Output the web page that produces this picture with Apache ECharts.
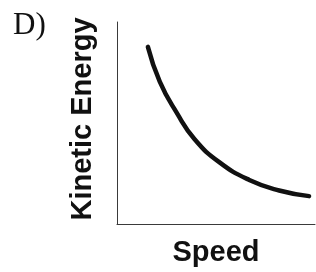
<!DOCTYPE HTML>
<html>
<head>
	<meta charset="utf-8" />
	<title>Kinetic Energy vs Speed</title>
	<script src="https://cdn.jsdelivr.net/npm/echarts@6/dist/echarts.min.js"></script>
	<style>
		html, body { margin: 0; padding: 0; background: #fff; }
		#main { width: 316px; height: 272px; }
	</style>
</head>
<body>
	<div id="main"></div>
	<script type="text/javascript">
		// values (axes have no scale, 0..100 each)
		var speed = [15.6, 21.6, 30.2, 39.2, 51.8, 66.8, 81.9, 97.0];
		var energy = [87.7, 70.5, 55.0, 42.0, 30.5, 21.8, 16.6, 13.8];
		var label = "D)";
		var xName = "Speed";
		var yName = "Kinetic Energy";

		var points = [];
		for (var i = 0; i < speed.length; i++) {
			points.push([speed[i], energy[i]]);
		}

		var myChart = echarts.init(document.getElementById("main"));

		var axisStyle = {
			show: true,
			lineStyle: { color: "#3a3a3a", width: 1 }
		};

		var option = {
			animation: false,
			backgroundColor: "#fff",
			title: {
				text: label,
				left: 8,
				top: 5,
				textStyle: {
					fontFamily: "Liberation Serif",
					fontWeight: "normal",
					fontSize: 31,
					color: "#111"
				}
			},
			grid: { left: 117, top: 22, right: 1, bottom: 47 },
			xAxis: {
				type: "value",
				min: 0,
				max: 100,
				name: xName,
				nameLocation: "middle",
				nameGap: 14,
				nameTextStyle: {
					fontFamily: "Liberation Sans",
					fontWeight: "bold",
					fontSize: 29,
					color: "#111"
				},
				axisLine: axisStyle,
				axisTick: { show: false },
				axisLabel: { show: false },
				splitLine: { show: false }
			},
			yAxis: {
				type: "value",
				min: 0,
				max: 100,
				name: yName,
				nameLocation: "middle",
				nameGap: 20,
				nameTextStyle: {
					fontFamily: "Liberation Sans",
					fontWeight: "bold",
					fontSize: 29,
					color: "#111",
					padding: [0, 0, 0, 8]
				},
				axisLine: axisStyle,
				axisTick: { show: false },
				axisLabel: { show: false },
				splitLine: { show: false }
			},
			series: [{
				type: "line",
				data: points,
				smooth: true,
				showSymbol: false,
				lineStyle: { color: "#111", width: 4.5, cap: "round" }
			}]
		};

		myChart.setOption(option);
	</script>
</body>
</html>
